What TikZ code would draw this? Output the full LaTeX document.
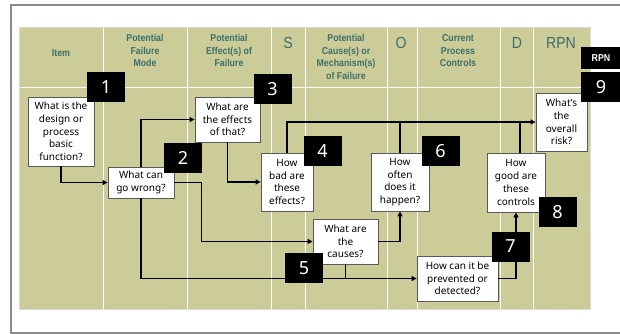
\documentclass[tikz,border=0pt]{standalone}
\usepackage{fontspec}
\setmainfont{Noto Sans}
\newfontfamily\hdrfont[FakeStretch=0.88]{Liberation Sans}
\definecolor{fmeabg}{HTML}{CCCC99}
\definecolor{hdrcolor}{HTML}{3D6F6A}
\definecolor{framecolor}{HTML}{8A8A8A}
\usetikzlibrary{arrows.meta}
\tikzset{
  qbox/.style={draw=black!65,fill=white,line width=0.8pt,inner sep=1pt,align=center,
    font=\fontsize{10}{12.7}\selectfont},
  numbox/.style={fill=black,text=white,minimum width=38,minimum height=30,inner sep=0pt,
    font=\fontsize{18}{18}\selectfont},
  hdr/.style={text=hdrcolor,align=center,font=\hdrfont\bfseries\fontsize{10}{12.5}\selectfont},
  hdrbig/.style={text=hdrcolor,font=\hdrfont\fontsize{16}{16}\selectfont},
  flow/.style={line width=1.3pt,-{Triangle[length=5pt,width=5pt]}},
  flowline/.style={line width=1.3pt}
}
\begin{document}
\begin{tikzpicture}[x=1pt,y=-1pt]
\useasboundingbox (0,0) rectangle (620,334);
\fill[white] (0,0) rectangle (620,334);
% outer frame and table
\draw[framecolor,line width=2.5pt] (11,5) rectangle (640,333);
\fill[fmeabg] (19,28) rectangle (590,309);
\draw[black!15,line width=1pt] (19,28) rectangle (590,309);
\foreach \cx in {103,187,271,305,387,417,500,533}
  \draw[white,line width=0.9pt] (\cx,28.5) -- (\cx,308.5);
\draw[white,line width=0.9pt] (19.5,87) -- (589.5,87);
% column headers
\node[hdr] (hitem) at (61,53) {Item};
\node[hdr,anchor=north] (hmode) at (145,31) {Potential\\Failure\\Mode};
\node[hdr,anchor=north] (heff) at (229,31) {Potential\\Effect(s) of\\Failure};
\node[hdrbig] (hs) at (288,43) {S};
\node[hdr,anchor=north] (hcause) at (346,31) {Potential\\Cause(s) or\\Mechanism(s)\\of Failure};
\node[hdrbig] (ho) at (401,43) {O};
\node[hdr,anchor=north] (hctrl) at (458,31) {Current\\Process\\Controls};
\node[hdrbig] (hd) at (517,43) {D};
\node[hdrbig] (hrpn) at (561,43) {RPN};
% questions
\node[qbox,minimum width=66,minimum height=69] (q1) at (61,131.5) {What is the\\design or\\process\\basic\\function?};
\node[qbox,minimum width=66,minimum height=31] (q2) at (141,182.5) {What can\\go wrong?};
\node[qbox,minimum width=65,minimum height=45] (q3) at (227.5,119.5) {What are\\the effects\\of that?};
\node[qbox,minimum width=52,minimum height=58] (q4) at (287,182) {How\\bad are\\these\\effects?};
\node[qbox,minimum width=65,minimum height=45] (q5) at (345.5,241.5) {What are\\the\\causes?};
\node[qbox,minimum width=58,minimum height=58] (q6) at (400,182) {How\\often\\does it\\happen?};
\node[qbox,minimum width=81,minimum height=45] (q7) at (457.5,278.5) {How can it be\\prevented or\\detected?};
\node[qbox,minimum width=58,minimum height=59] (q8) at (516,182.5) {How\\good are\\these\\controls};
\node[qbox,minimum width=51,minimum height=58] (q9) at (561.5,122) {What's\\the\\overall\\risk?};
% connectors
\draw[flow] (q1.south) |- (q2.west);
\draw[flow] (q2.north) |- (q3.west);
\draw[flow] (q3.south) |- (q4.west);
\draw[flow] (q2.east) -- ++(27,0) |- (q5.west);
\draw[flow] (q2.south) |- (q7.west);
\draw[flowline] (q5.south) -- (q5.south |- q7.west);
\draw[flow] (q5.east) -| (q6.south);
\draw[flow] (q7.east) -| (q8.south);
\draw[flow] (q4.north) |- (q9.west);
\draw[flowline] (q6.north) -- (q6.north |- q9.west);
\draw[flowline] ([xshift=4]q8.north) -- ([xshift=4]q8.north |- q9.west);
% step numbers
\node[numbox] (n1) at (106,87) {1};
\node[numbox] (n2) at (183,158) {2};
\node[numbox] (n3) at (272.5,89.5) {3};
\node[numbox] (n4) at (322.5,151) {4};
\node[numbox] (n5) at (304,268) {5};
\node[numbox] (n6) at (440.5,151) {6};
\node[numbox] (n7) at (510.5,246.5) {7};
\node[numbox] (n8) at (557.5,212) {8};
\node[numbox,minimum width=40] (n9) at (601,87.5) {9};
\node[numbox,minimum width=40,minimum height=22,font=\hdrfont\bfseries\fontsize{10}{10}\selectfont] (nrpn) at (601,58) {RPN};
\end{tikzpicture}
\end{document}
